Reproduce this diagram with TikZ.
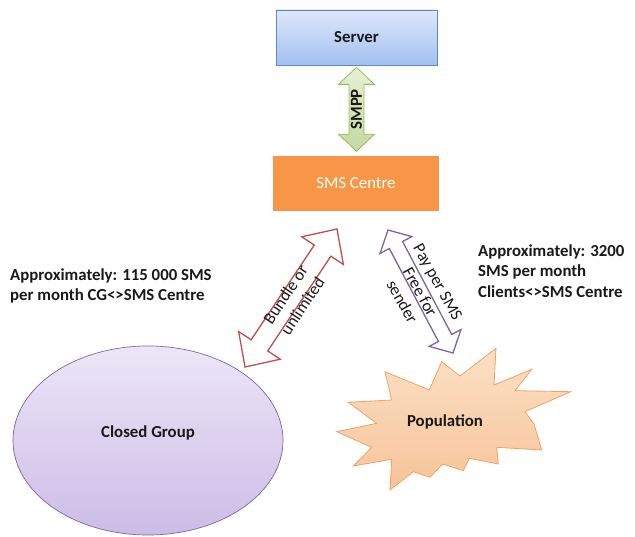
\documentclass[tikz,border=0pt]{standalone}
\usepackage{fontspec}
\setmainfont{Carlito}
\usetikzlibrary{calc,shapes.geometric,shadows}
\definecolor{serverTop}{RGB}{221,232,250}
\definecolor{serverBot}{RGB}{163,192,240}
\definecolor{serverBorder}{RGB}{95,135,205}
\definecolor{smsOrange}{RGB}{247,150,70}
\definecolor{smppTop}{RGB}{230,240,212}
\definecolor{smppBot}{RGB}{196,216,160}
\definecolor{smppBorder}{RGB}{155,187,89}
\definecolor{redArrow}{RGB}{192,80,77}
\definecolor{purArrow}{RGB}{128,100,162}
\definecolor{cgTop}{RGB}{236,230,247}
\definecolor{cgBot}{RGB}{204,188,230}
\definecolor{popTop}{RGB}{252,224,198}
\definecolor{popBot}{RGB}{246,196,152}
\definecolor{popBorder}{RGB}{240,162,98}
\definecolor{txt}{RGB}{25,25,25}
% double block arrow: #1 end A, #2 end B, #3 shaft half width, #4 head half width, #5 head length, #6 style
\newcommand{\dblarrow}[6]{%
  \coordinate (#1-h) at ($(#1)!#5!(#2)$);
  \coordinate (#2-h) at ($(#2)!#5!(#1)$);
  \path[#6] (#1) -- ($(#1-h)!#4!90:(#2)$) -- ($(#1-h)!#3!90:(#2)$)
    -- ($(#2-h)!#3!-90:(#1)$) -- ($(#2-h)!#4!-90:(#1)$) -- (#2)
    -- ($(#2-h)!#4!90:(#1)$) -- ($(#2-h)!#3!90:(#1)$)
    -- ($(#1-h)!#3!-90:(#2)$) -- ($(#1-h)!#4!-90:(#2)$) -- cycle;
}
\begin{document}
\begin{tikzpicture}[x=1pt,y=-1pt,
  font=\fontsize{16.8}{20.5}\selectfont, text=txt,
  serverbox/.style={draw=serverBorder, line width=0.8pt, top color=serverTop, bottom color=serverBot,
    minimum width=161pt, minimum height=55pt, inner sep=0pt,
    drop shadow={opacity=0.2, shadow xshift=1.2pt, shadow yshift=-1.2pt}},
  smsbox/.style={fill=smsOrange, draw=white, line width=1.5pt, text=white,
    minimum width=168pt, minimum height=57pt, inner sep=0pt,
    drop shadow={opacity=0.2, shadow xshift=1.2pt, shadow yshift=-1.2pt}},
  smppstyle/.style={draw=smppBorder, line width=0.8pt, top color=smppTop, bottom color=smppBot},
  redstyle/.style={draw=redArrow, line width=1.3pt, fill=white, line join=miter},
  purstyle/.style={draw=purArrow, line width=1.3pt, fill=white, line join=miter},
  cgstyle/.style={ellipse, draw=purArrow, line width=0.7pt, top color=cgTop, bottom color=cgBot,
    minimum width=270pt, minimum height=189pt, inner sep=0pt},
  popstyle/.style={draw=popBorder, line width=0.8pt, top color=popTop, bottom color=popBot, line join=miter},
  lbl/.style={inner sep=0pt, align=center},
  boldlbl/.style={inner sep=0pt, align=center, font=\fontsize{16.8}{20.5}\selectfont\bfseries},
  note/.style={inner sep=0pt, align=left, anchor=west, font=\fontsize{16.8}{20.5}\selectfont\bfseries}
]
\useasboundingbox (0,0) rectangle (635,537);

% boxes
\node[serverbox] (server) at (356.5,37.5) {\textbf{Server}};
\node[smsbox] (smsc) at (356,183.5) {SMS Centre};

% SMPP arrow
\coordinate (smppA) at ($(server.south)+(0,2)$);
\coordinate (smppB) at ($(smppA |- smsc.north)+(0,-3)$);
\dblarrow{smppA}{smppB}{7.5pt}{18pt}{17pt}{smppstyle}
\node[boldlbl, rotate=90] (smpplbl) at ($(smppA)!0.5!(smppB)$) {SMPP};

% red arrow
\coordinate (redA) at (245,367);
\coordinate (redB) at (337,229);
\dblarrow{redA}{redB}{10pt}{25pt}{26pt}{redstyle}
\node[lbl, rotate=56.3] (redlbl) at (294,300) {Bundle or\\unlimited};

% purple arrow
\coordinate (purA) at (388,230);
\coordinate (purB) at (453,353);
\dblarrow{purA}{purB}{7.5pt}{18pt}{17pt}{purstyle}
\node[lbl, rotate=-61] (purlbl) at (420,292) {Pay per SMS\\Free for\\sender};

% closed group
\node[cgstyle] (cg) at (148,440.5) {};
\node[boldlbl] (cglbl) at (148,432.5) {Closed Group};

% population starburst
\draw[popstyle] (496.0,348.3) -- (494.0,385.0) -- (531.7,369.3) -- (515.0,390.7) -- (570.7,391.7)
  -- (525.0,411.7) -- (534.0,424.0) -- (541.7,450.0) -- (496.7,447.3) -- (498.3,464.0)
  -- (469.3,458.3) -- (463.3,470.7) -- (442.7,464.0) -- (430.0,477.3) -- (413.3,471.7)
  -- (390.0,490.0) -- (391.7,459.3) -- (353.3,466.0) -- (371.7,447.3) -- (336.7,431.7)
  -- (376.7,423.3) -- (348.3,402.3) -- (391.7,400.0) -- (385.0,371.7) -- (429.3,390.0)
  -- (441.7,361.7) -- (460.0,376.0) -- cycle;
\node[boldlbl] (pop) at (445,422) {Population};

% notes
\node[note] (noteL) at (10,286) {Approximately: 115 000 SMS\\per month CG<>SMS Centre};
\node[note] (noteR) at (478,271) {Approximately: 3200\\SMS per month\\Clients<>SMS Centre};
\end{tikzpicture}
\end{document}
